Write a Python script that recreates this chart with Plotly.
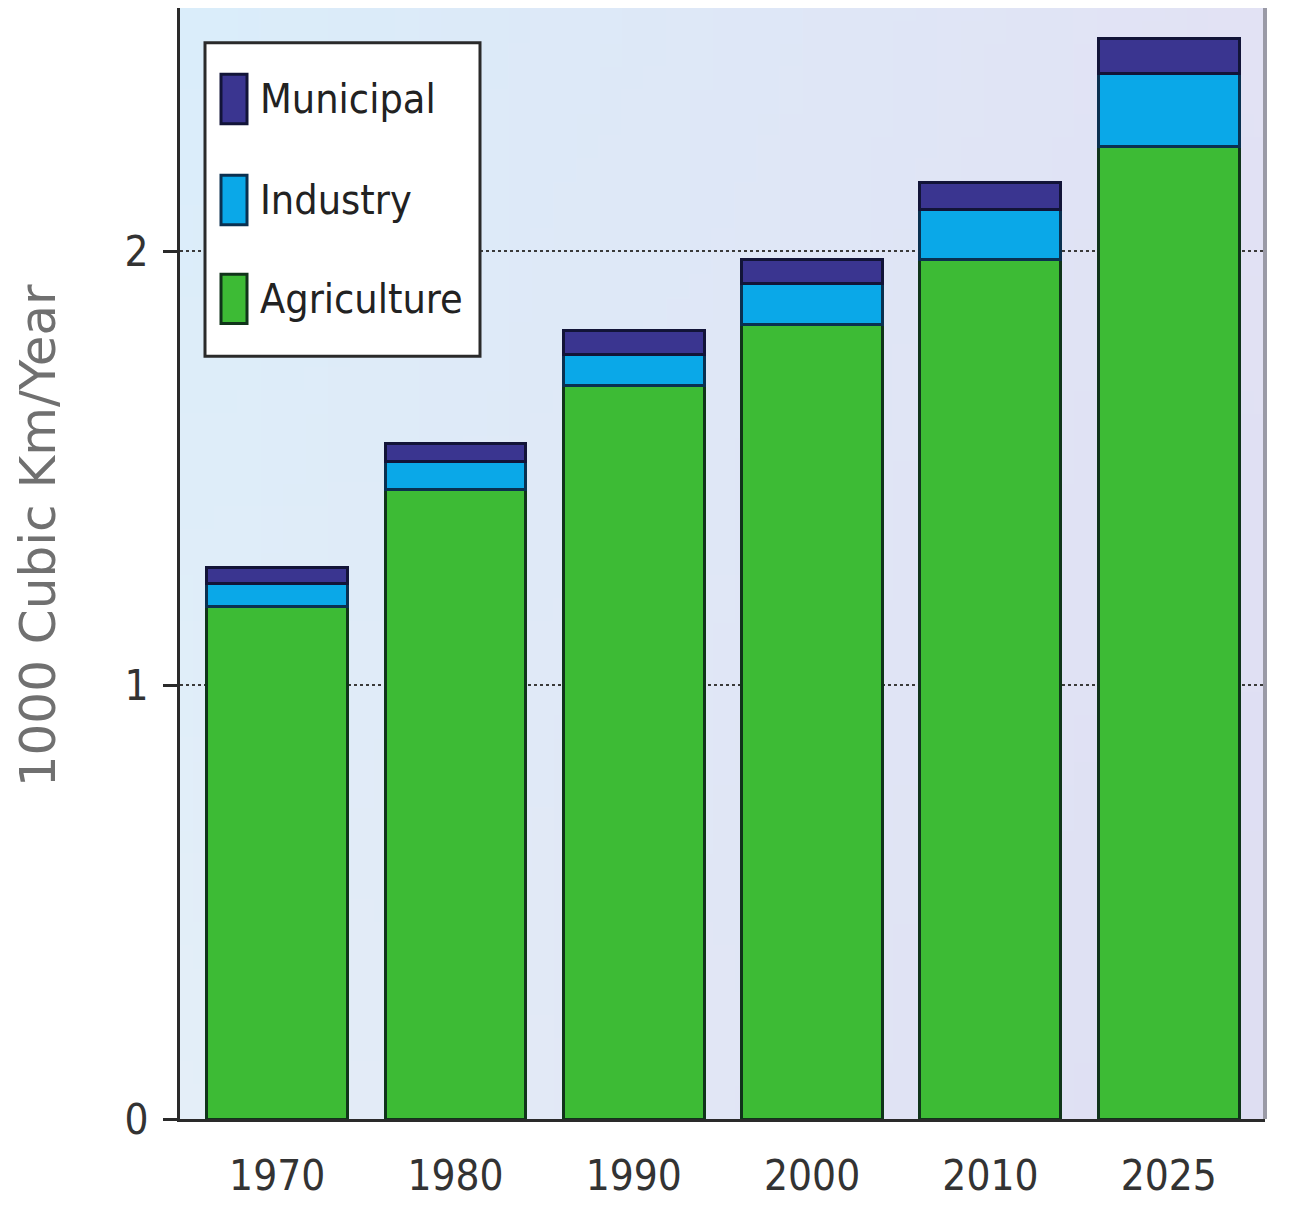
import base64
import struct
import zlib

import plotly.graph_objects as go

years = ["1970", "1980", "1990", "2000", "2010", "2025"]
agriculture = [1.18, 1.45, 1.69, 1.83, 1.98, 2.24]
industry = [0.055, 0.065, 0.072, 0.095, 0.115, 0.17]
municipal = [0.035, 0.042, 0.055, 0.055, 0.062, 0.08]
series_names = ["Municipal", "Industry", "Agriculture"]
y_ticks = [0, 1, 2]
y_title = "1000 Cubic Km/Year"

colors = {"Agriculture": "#3dbb35", "Industry": "#0aa8e8", "Municipal": "#3a3590"}
edges = {"Agriculture": "#10341a", "Industry": "#0a3050", "Municipal": "#121438"}

NARROW = "Liberation Sans Narrow, DejaVu Sans Condensed, Arial Narrow, sans-serif"


def gradient_png(w, h, c_tl, c_tr, c_bl, c_br):
    rows = b""
    for j in range(h):
        v = j / (h - 1)
        row = b"\x00"
        for i in range(w):
            u = i / (w - 1)
            px = []
            for k in range(3):
                top = c_tl[k] * (1 - u) + c_tr[k] * u
                bot = c_bl[k] * (1 - u) + c_br[k] * u
                px.append(int(round(top * (1 - v) + bot * v)))
            row += bytes(px)
        rows += row

    def chunk(tag, data):
        c = tag + data
        return struct.pack(">I", len(data)) + c + struct.pack(">I", zlib.crc32(c) & 0xffffffff)

    png = b"\x89PNG\r\n\x1a\n"
    png += chunk(b"IHDR", struct.pack(">IIBBBBB", w, h, 8, 2, 0, 0, 0))
    png += chunk(b"IDAT", zlib.compress(rows, 9))
    png += chunk(b"IEND", b"")
    return "data:image/png;base64," + base64.b64encode(png).decode()


bg_src = gradient_png(48, 48, (218, 237, 250), (226, 226, 244), (228, 238, 248), (222, 222, 242))

fig = go.Figure()
for name, vals in [("Agriculture", agriculture), ("Industry", industry), ("Municipal", municipal)]:
    fig.add_trace(go.Bar(
        x=years, y=vals, name=name,
        marker=dict(color=colors[name], line=dict(color=edges[name], width=3)),
        showlegend=False,
    ))

# page has an 8px body margin; keep the figure a little smaller than the window
OFF = 8
W, H = 1280, 1192
PX_L, PX_R, PX_T, PX_B = 180, 1265, 8, 1131  # plot area in window pixels
L, R, T, B = PX_L - OFF, W - (PX_R - OFF), PX_T - OFF, H - (PX_B - OFF)
pw, ph = PX_R - PX_L, PX_B - PX_T


def px_x(p):
    return (p - PX_L) / pw


def px_y(p):
    return (PX_B - p) / ph


shapes = []
# right border line of plot
shapes.append(dict(type="line", xref="paper", yref="paper", x0=1.0, x1=1.0, y0=0, y1=1,
                   line=dict(color="#9a9aa6", width=4), layer="above"))

# custom legend
lx0, lx1, ly0, ly1 = px_x(205), px_x(480), px_y(360), px_y(43)
shapes.append(dict(type="rect", xref="paper", yref="paper", x0=lx0, x1=lx1, y0=ly0, y1=ly1,
                   fillcolor="white", line=dict(color="#2a2a2a", width=3), layer="above"))
annotations = []
centers = [100, 202, 302]
for name, cy in zip(series_names, centers):
    shapes.append(dict(type="rect", xref="paper", yref="paper",
                       x0=px_x(221), x1=px_x(247), y0=px_y(cy + 25), y1=px_y(cy - 25),
                       fillcolor=colors[name], line=dict(color=edges[name], width=3), layer="above"))
    annotations.append(dict(xref="paper", yref="paper", x=px_x(258), y=px_y(cy), text=name,
                            showarrow=False, xanchor="left", yanchor="middle",
                            font=dict(family=NARROW, size=41, color="#222222")))

annotations.append(dict(xref="paper", yref="paper", x=px_x(38), y=px_y(542), text=y_title,
                        showarrow=False, textangle=-90, xanchor="center", yanchor="middle",
                        font=dict(family="DejaVu Sans, Verdana, sans-serif", size=50, color="#707070")))

fig.update_layout(
    width=W, height=H,
    margin=dict(l=L, r=R, t=T, b=B, pad=0),
    barmode="stack",
    bargap=0.21,
    paper_bgcolor="white",
    plot_bgcolor="rgba(0,0,0,0)",
    images=[dict(source=bg_src, xref="paper", yref="paper", x=0, y=1, sizex=1, sizey=1,
                 xanchor="left", yanchor="top", sizing="stretch", layer="below")],
    shapes=shapes,
    annotations=annotations,
    xaxis=dict(
        type="category",
        range=[-0.545, 5.54],
        showgrid=False,
        showline=True, linecolor="#2a2a2a", linewidth=3,
        ticks="", ticklabelstandoff=18,
        tickfont=dict(family=NARROW, size=42, color="#333333"),
    ),
    yaxis=dict(
        range=[0, 2.56],
        tickvals=y_ticks,
        ticktext=[str(v) for v in y_ticks],
        showgrid=True, gridcolor="#3a3a3a", gridwidth=2, griddash="dot",
        zeroline=False,
        showline=True, linecolor="#2a2a2a", linewidth=3,
        ticks="outside", ticklen=14, tickwidth=3, tickcolor="#2a2a2a",
        ticklabelstandoff=6,
        tickfont=dict(family=NARROW, size=42, color="#333333"),
    ),
)

fig.write_html("out.html")
